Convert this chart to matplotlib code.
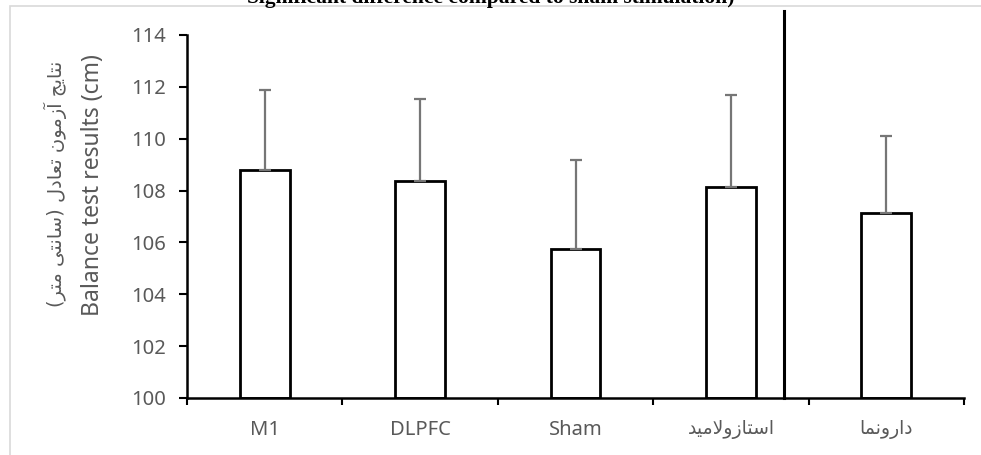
import matplotlib
matplotlib.use("Agg")
import matplotlib.pyplot as plt
from matplotlib.patches import Rectangle

# داده ها
groups = ["M1", "DLPFC", "Sham", "استازولامید", "دارونما"]
means = [108.8, 108.36, 105.76, 108.14, 107.14]
sd = [3.08, 3.18, 3.42, 3.56, 2.96]
yticks = [100, 102, 104, 106, 108, 110, 112, 114]

ylabel_en = "Balance test results (cm)"
ylabel_fa = "نتایج آزمون تعادل (سانتی متر)"
title_txt = "Significant difference compared to sham stimulation)"

# شکل دادن حروف فارسی (matplotlib خودش این کار را نمی کند)
FORMS = {
    "ا": ("\uFE8D", "\uFE8E", None, None),
    "آ": ("\uFE81", "\uFE82", None, None),
    "د": ("\uFEA9", "\uFEAA", None, None),
    "ر": ("\uFEAD", "\uFEAE", None, None),
    "ز": ("\uFEAF", "\uFEB0", None, None),
    "و": ("\uFEED", "\uFEEE", None, None),
    "ت": ("\uFE95", "\uFE96", "\uFE97", "\uFE98"),
    "ج": ("\uFE9D", "\uFE9E", "\uFE9F", "\uFEA0"),
    "س": ("\uFEB1", "\uFEB2", "\uFEB3", "\uFEB4"),
    "ع": ("\uFEC9", "\uFECA", "\uFECB", "\uFECC"),
    "ل": ("\uFEDD", "\uFEDE", "\uFEDF", "\uFEE0"),
    "م": ("\uFEE1", "\uFEE2", "\uFEE3", "\uFEE4"),
    "ن": ("\uFEE5", "\uFEE6", "\uFEE7", "\uFEE8"),
    "ی": ("\uFBFC", "\uFBFD", "\uFBFE", "\uFBFF"),
}
MIRROR = {"(": ")", ")": "("}


def shape_fa(s):
    chars = list(s)
    out = []
    n = len(chars)
    i = 0
    while i < n:
        c = chars[i]
        prev = chars[i - 1] if i > 0 else None
        joins_prev = prev in FORMS and FORMS[prev][2] is not None and c in FORMS
        # لام الف
        if c == "ل" and i + 1 < n and chars[i + 1] == "ا":
            out.append("\uFEFC" if joins_prev else "\uFEFB")
            i += 2
            continue
        if c not in FORMS:
            out.append(MIRROR.get(c, c))
            i += 1
            continue
        nxt = chars[i + 1] if i + 1 < n else None
        f = FORMS[c]
        joins_next = f[2] is not None and nxt in FORMS
        if joins_prev and joins_next:
            out.append(f[3])
        elif joins_prev:
            out.append(f[1])
        elif joins_next:
            out.append(f[2])
        else:
            out.append(f[0])
        i += 1
    return "".join(out[::-1])


def lbl(s):
    if any("\u0600" <= ch <= "\u06FF" for ch in s):
        return shape_fa(s)
    return s


plt.rcParams['font.family'] = ['Noto Sans', 'DejaVu Sans']
grey = "#595959"

fig = plt.figure(figsize=(9.81, 4.55), dpi=100)
ax = fig.add_axes([0.1906, 0.1253, 0.7921, 0.7978])

x = list(range(len(groups)))
ax.bar(x, [m - 100 for m in means], bottom=100, width=0.32,
       color="white", edgecolor="black", linewidth=2, zorder=2)
ax.errorbar(x, means, yerr=[[0] * len(sd), sd], fmt="none",
            ecolor="#767676", elinewidth=1.6, capsize=4.3, capthick=1.6, zorder=3)

ax.set_xlim(-0.5, 4.5)
ax.set_ylim(100, 114)
ax.set_yticks(yticks)
ax.set_yticklabels([str(t) for t in yticks], fontsize=14.5, color=grey)
ax.set_xticks([i + 0.5 for i in range(-1, 5)])
ax.set_xticklabels([])
ax.set_xticks(x, minor=True)
ax.set_xticklabels([lbl(g) for g in groups], minor=True, fontsize=13.5, color=grey,
                   family=['DejaVu Sans'])
for t, g in zip(ax.get_xticklabels(minor=True), groups):
    if g.isascii():
        t.set_family(['Noto Sans'])
        t.set_fontsize(14.5)
ax.tick_params(axis="x", which="minor", length=0, pad=16)
ax.tick_params(axis="x", which="major", length=5, width=1.5, direction="out")
ax.tick_params(axis="y", length=6, width=1.5, direction="out", pad=9)
for s in ["top", "right"]:
    ax.spines[s].set_visible(False)
ax.spines["left"].set_linewidth(1.8)
ax.spines["bottom"].set_linewidth(1.8)

# خط جدا کننده
ax.plot([3.34, 3.34], [100, 114.93], color="black", linewidth=2.2,
        clip_on=False, zorder=4)

fig.text(0.095, 0.593, ylabel_en, rotation=90, ha="center", va="center",
         fontsize=16.5, color=grey)
fig.text(0.056, 0.597, shape_fa(ylabel_fa), rotation=90, ha="center", va="center",
         fontsize=14, color=grey, family=['DejaVu Sans'])

fig.text(0.5, 1 - 2.5 / 455, title_txt, ha="center", va="baseline",
         fontsize=15.5, fontweight="bold", family=['Liberation Serif'])

fig.patches.append(Rectangle((10 / 981, -0.1), 1.2, 1 - 6 / 455 + 0.1,
                             transform=fig.transFigure, fill=False,
                             edgecolor="#d9d9d9", linewidth=1.2))

fig.savefig("out.png", dpi=100)
